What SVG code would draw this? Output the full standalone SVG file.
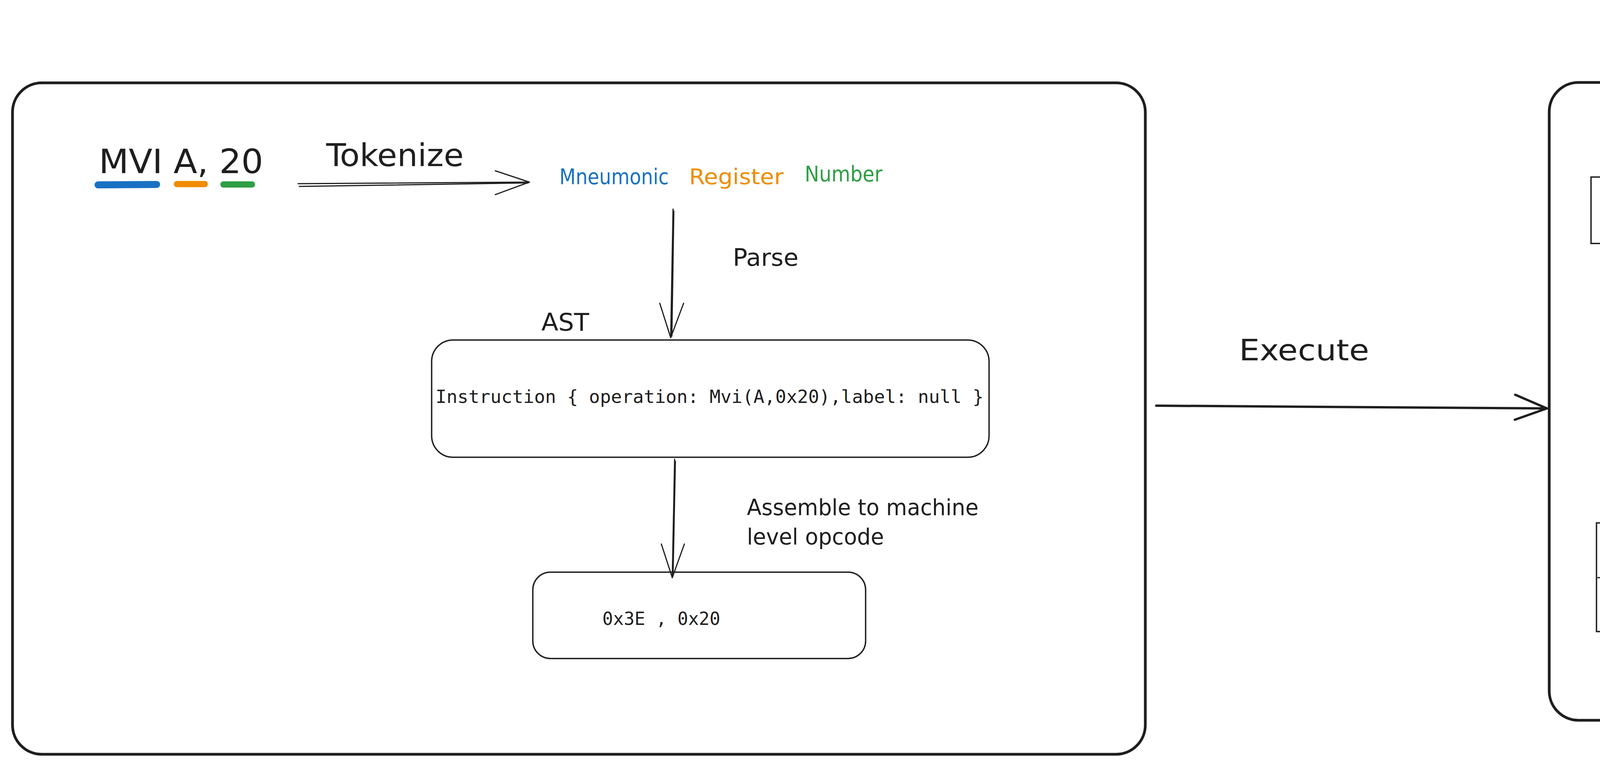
<svg xmlns="http://www.w3.org/2000/svg" width="6696" height="1960" viewBox="0 0 6696 1960">
<style>
.hand{font-family:"DejaVu Sans Condensed","DejaVu Sans",sans-serif;font-stretch:condensed;fill:#1e1e1e}
.mono{font-family:"DejaVu Sans Mono","Liberation Mono",monospace;fill:#1e1e1e}
.sans{font-family:"Noto Sans","Liberation Sans",sans-serif;fill:#1e1e1e}
.frame{fill:none;stroke:#1e1e1e;stroke-width:7}
.box{fill:none;stroke:#1e1e1e;stroke-width:3.5}
.ln{fill:none;stroke:#1e1e1e;stroke-width:3;stroke-linecap:round;stroke-linejoin:round}
</style>
<rect width="6696" height="1960" fill="#ffffff"/>

<g id="assembler-frame">
<rect class="frame" x="32" y="212" width="2900" height="1718" rx="75"/>
</g>

<g id="source">
<text class="hand" x="253" y="443" font-size="86" textLength="421" lengthAdjust="spacingAndGlyphs">MVI A, 20</text>
<line x1="251" y1="473" x2="401" y2="472" stroke="#1971c2" stroke-width="18" stroke-linecap="round"/>
<line x1="453" y1="471" x2="524" y2="471" stroke="#f08c00" stroke-width="16" stroke-linecap="round"/>
<line x1="572" y1="472" x2="645" y2="472" stroke="#2f9e44" stroke-width="16" stroke-linecap="round"/>
</g>

<g id="label-tokenize">
<text class="hand" x="835" y="425" font-size="80" textLength="352" lengthAdjust="spacingAndGlyphs">Tokenize</text>
</g>

<g id="tokens">
<text class="hand" x="1432" y="471" font-size="56" style="fill:#1971c2" textLength="280" lengthAdjust="spacingAndGlyphs">Mneumonic</text>
<text class="hand" x="1764" y="471" font-size="56" style="fill:#f08c00" textLength="242" lengthAdjust="spacingAndGlyphs">Register</text>
<text class="hand" x="2060" y="464" font-size="56" style="fill:#2f9e44" textLength="199" lengthAdjust="spacingAndGlyphs">Number</text>
</g>

<g id="label-parse">
<text class="hand" x="1876" y="680" font-size="60" textLength="168" lengthAdjust="spacingAndGlyphs">Parse</text>
</g>

<g id="label-ast">
<text class="hand" x="1386" y="846" font-size="63" textLength="122" lengthAdjust="spacingAndGlyphs">AST</text>
</g>

<g id="ast-node">
<rect class="box" x="1105" y="870" width="1427" height="300" rx="55"/>
<text class="mono" x="1115" y="1031" font-size="46" textLength="1403" lengthAdjust="spacingAndGlyphs">Instruction { operation: Mvi(A,0x20),label: null }</text>
</g>

<g id="label-assemble">
<text class="hand" x="1912" y="1318" font-size="57" textLength="593" lengthAdjust="spacingAndGlyphs">Assemble to machine</text>
<text class="hand" x="1912" y="1393" font-size="57" textLength="351" lengthAdjust="spacingAndGlyphs">level opcode</text>
</g>

<g id="opcode-node">
<rect class="box" x="1364" y="1464" width="852" height="221" rx="45"/>
<text class="mono" x="1542" y="1599" font-size="46" textLength="302" lengthAdjust="spacingAndGlyphs">0x3E , 0x20</text>
</g>

<g id="label-execute">
<text class="hand" x="3172" y="922" font-size="75" textLength="333" lengthAdjust="spacingAndGlyphs">Execute</text>
</g>

<g id="cpu-label">
<text class="hand" x="6356" y="106" font-size="74" textLength="164" lengthAdjust="spacingAndGlyphs">CPU</text>
</g>

<g id="cpu-frame">
<rect class="frame" x="3966" y="211" width="2695" height="1632" rx="75"/>
</g>

<g id="accumulator">
<text class="hand" x="4150" y="385" font-size="84" textLength="490" lengthAdjust="spacingAndGlyphs">Accumulator</text>
<rect class="box" x="4073" y="453" width="688" height="170"/>
<text class="hand" x="4265" y="580" font-size="89" textLength="214" lengthAdjust="spacingAndGlyphs">0x20</text>
</g>

<g id="memory">
<text class="hand" x="6003" y="385" font-size="75" textLength="277" lengthAdjust="spacingAndGlyphs">Memory</text>
<rect class="box" x="5775" y="466" width="317" height="128"/>
<rect class="box" x="6098" y="465" width="321" height="127"/>
<rect class="box" x="5779" y="599" width="319" height="129"/>
<rect class="box" x="6101" y="597" width="321" height="129"/>
<text class="mono" x="6075" y="551" font-size="46" text-anchor="end">0001</text>
<text class="mono" x="6203" y="546" font-size="46">0x78</text>
<text class="mono" x="6071" y="683" font-size="46" text-anchor="end">0002</text>
<text class="mono" x="6208" y="680" font-size="46">0x20</text>
</g>

<g id="flag-registers">
<text class="hand" x="4310" y="1255" font-size="78" textLength="588" lengthAdjust="spacingAndGlyphs">Flag Registers</text>
<rect class="box" x="4087" y="1338" width="959" height="278"/>
<path class="ln" d="M4090 1478 L5053 1481"/>
<path class="ln" d="M4241 1338 L4242 1616"/>
<path class="ln" d="M4416 1338 L4416 1616"/>
<path class="ln" d="M4662 1338 L4661 1614"/>
<path class="ln" d="M4870 1338 L4871 1625"/>
<text class="sans" x="4155" y="1467" font-size="82">S</text>
<text class="sans" x="4300" y="1463" font-size="82">Z</text>
<text class="sans" x="4490" y="1451" font-size="82">AC</text>
<text class="sans" x="4720" y="1461" font-size="82">P</text>
<text class="sans" x="4920" y="1452" font-size="82">Cy</text>
<text class="mono" x="4150" y="1605" font-size="82" text-anchor="middle">0</text>
<text class="mono" x="4311" y="1596" font-size="82" text-anchor="middle">0</text>
<text class="mono" x="4519" y="1590" font-size="82" text-anchor="middle">0</text>
<text class="mono" x="4769" y="1588" font-size="82" text-anchor="middle">0</text>
<text class="mono" x="4954" y="1585" font-size="82" text-anchor="middle">0</text>
</g>

<g id="registers">
<rect class="box" x="5758" y="917" width="771" height="709"/>
<text class="hand" x="5989" y="1034" font-size="80" textLength="380" lengthAdjust="spacingAndGlyphs">Registers</text>
<rect class="box" x="5823" y="1091" width="212" height="127"/>
<rect class="box" x="6176" y="1087" width="214" height="128"/>
<rect class="box" x="5825" y="1266" width="214" height="127"/>
<rect class="box" x="6182" y="1263" width="210" height="127"/>
<rect class="box" x="5829" y="1441" width="214" height="125"/>
<rect class="box" x="6182" y="1441" width="214" height="127"/>
<text class="hand" x="5930" y="1170" font-size="55" text-anchor="middle">B</text>
<text class="hand" x="6282" y="1165" font-size="55" text-anchor="middle">C</text>
<text class="hand" x="5932" y="1345" font-size="55" text-anchor="middle">D</text>
<text class="hand" x="6287" y="1340" font-size="55" text-anchor="middle">E</text>
<text class="hand" x="5936" y="1519" font-size="55" text-anchor="middle">H</text>
<text class="hand" x="6288" y="1519" font-size="55" text-anchor="middle">L</text>
</g>

<g id="connectors">
<path class="ln" d="M763 470 L1355 466 M766 477 L1352 468"/>
<path class="ln" d="M1268 437 L1355 466 L1268 498"/>
<path class="ln" d="M1723 535 L1717 864 M1725 540 L1720 860"/>
<path class="ln" d="M1689 776 L1717 864 L1750 776"/>
<path class="ln" d="M1727 1175 L1721 1478 M1729 1180 L1723 1474"/>
<path class="ln" d="M1693 1392 L1721 1478 L1752 1392"/>
<path class="ln" style="stroke-width:6" d="M2960 1038 L3960 1045"/>
<path class="ln" style="stroke-width:6" d="M3879 1010 L3960 1045 L3878 1074"/>
</g>
</svg>
